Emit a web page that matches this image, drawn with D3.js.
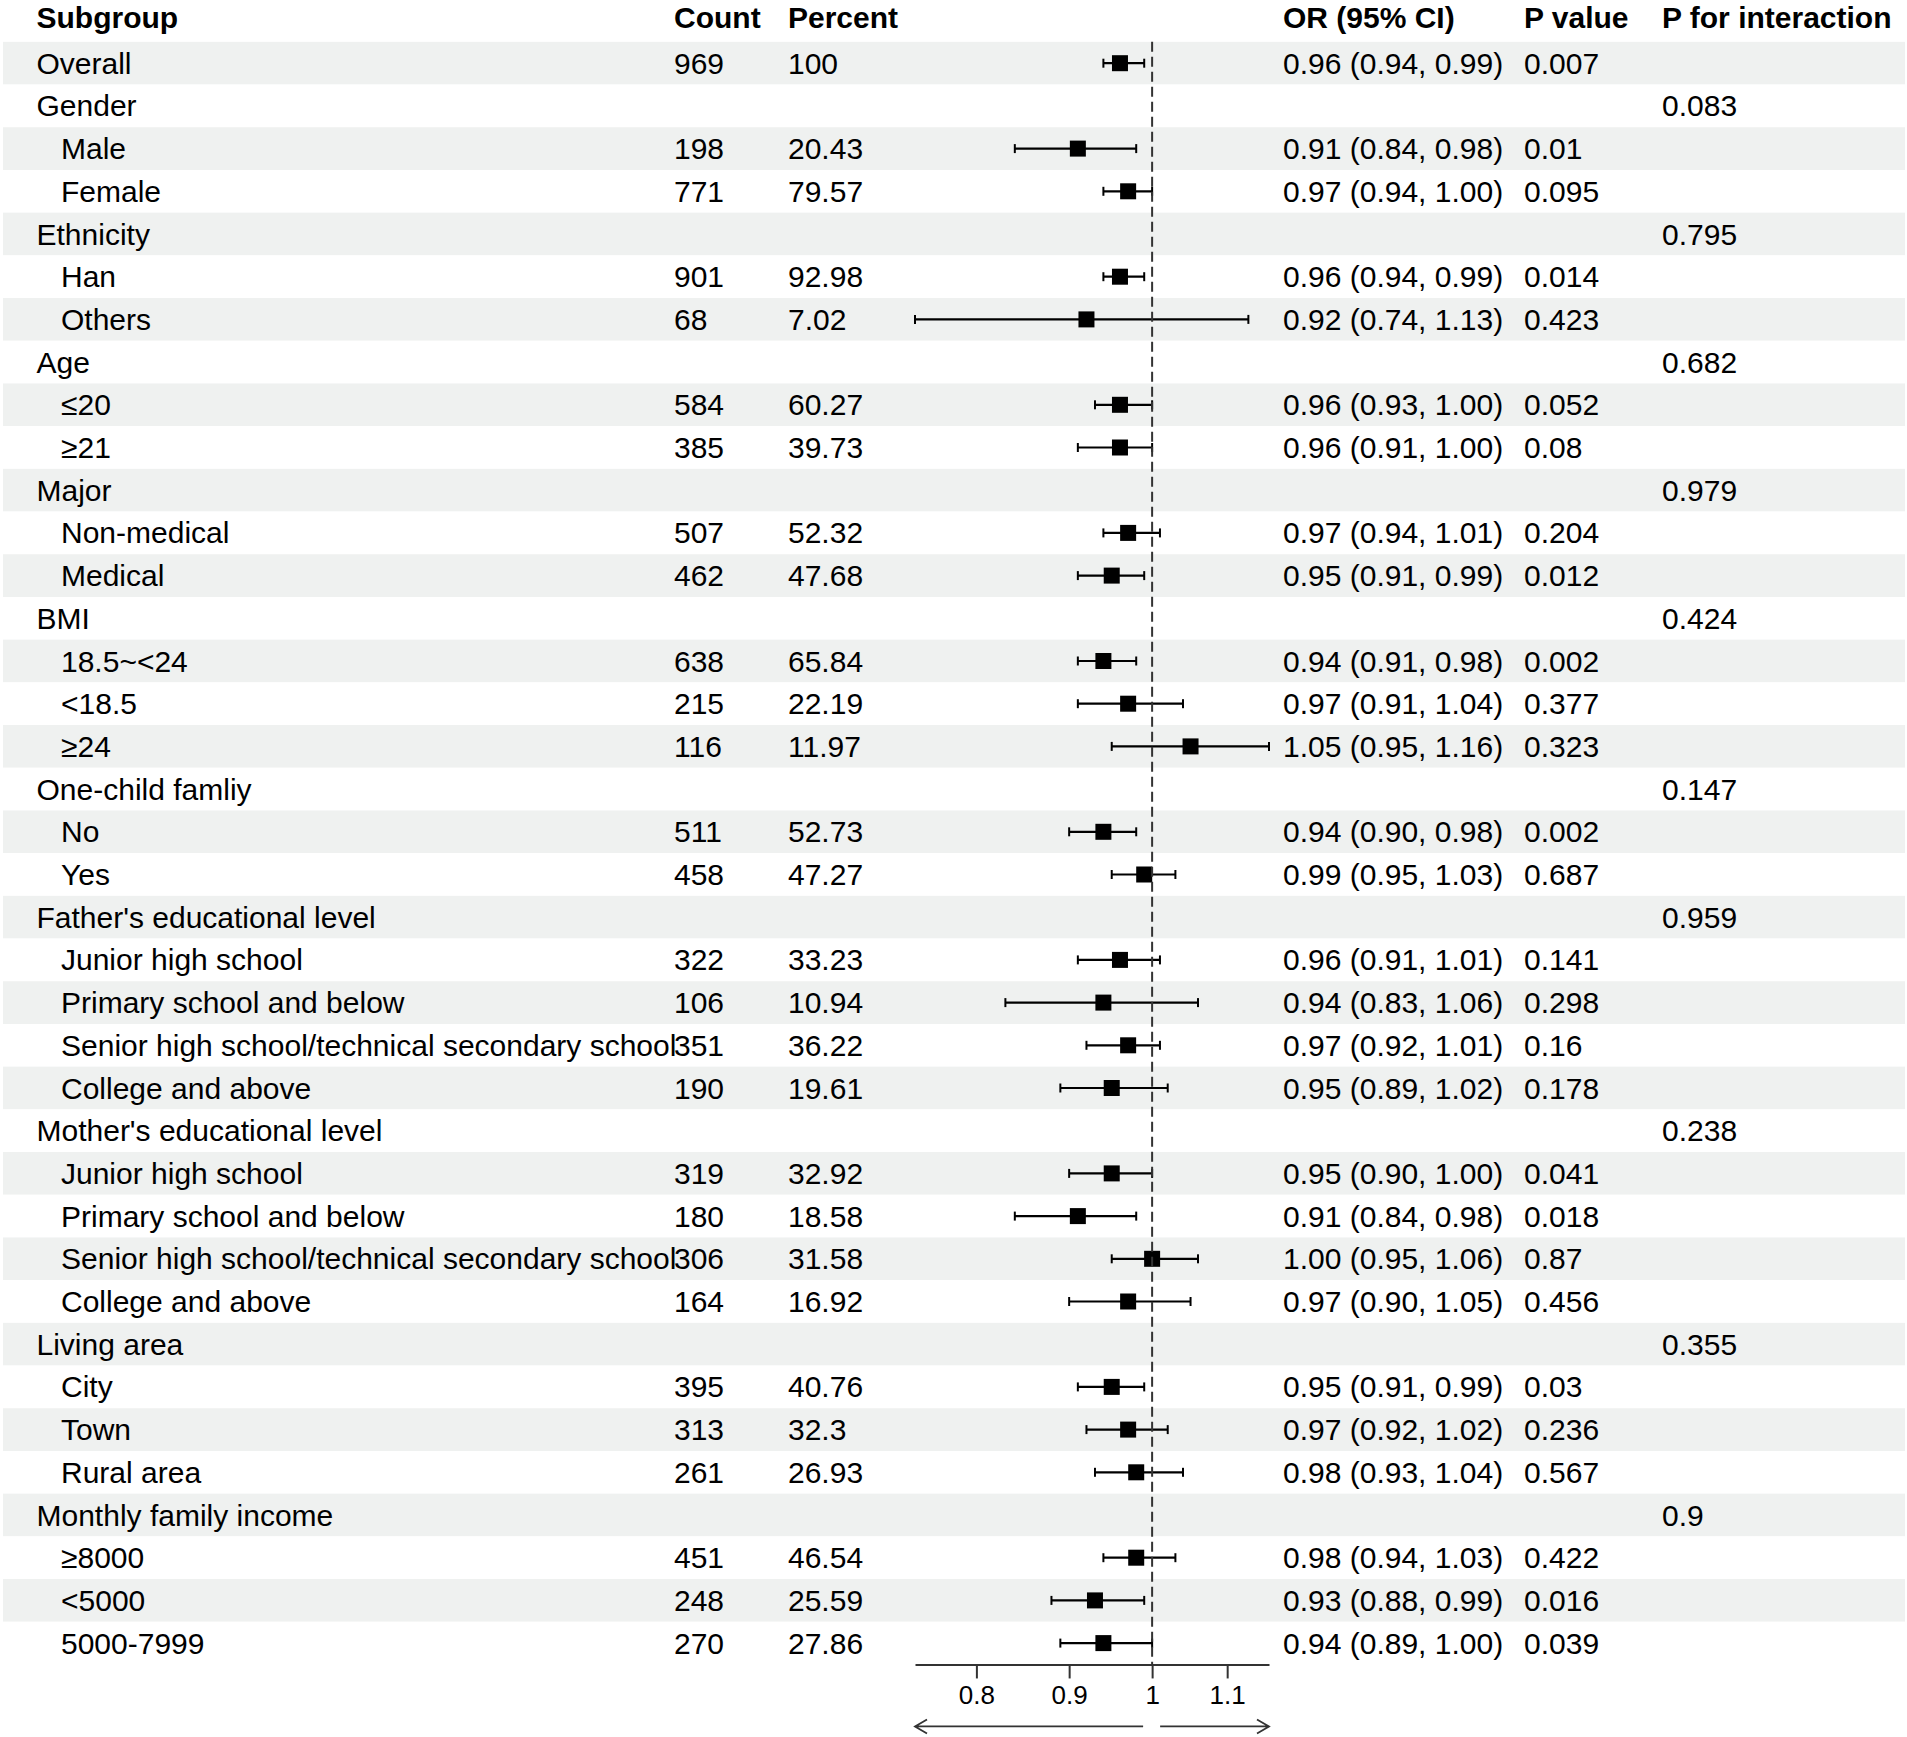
<!DOCTYPE html>
<html>
<head>
<meta charset="utf-8">
<script src="https://cdn.jsdelivr.net/npm/d3@7"></script>
<style>
  html, body { margin: 0; padding: 0; background: #fff; }
  text { font-family: "Liberation Sans", Arial, Helvetica, sans-serif; fill: #000; }
</style>
</head>
<body>
<div id="container_forest"></div>
<script>
// rows of the table, leading spaces = indented sub item
const subgroups = ['Overall', 'Gender', '  Male', '  Female', 'Ethnicity', '  Han', '  Others',
  'Age', '  ≤20', '  ≥21', 'Major', '  Non-medical', '  Medical', 'BMI', '  18.5~<24', '  <18.5', '  ≥24',
  'One-child famliy', '  No', '  Yes', "Father's educational level", '  Junior high school',
  '  Primary school and below', '  Senior high school/technical secondary school', '  College and above',
  "Mother's educational level", '  Junior high school', '  Primary school and below',
  '  Senior high school/technical secondary school', '  College and above', 'Living area', '  City',
  '  Town', '  Rural area', 'Monthly family income', '  ≥8000', '  <5000', '  5000-7999'];
const counts = [969, null, 198, 771, null, 901, 68, null, 584, 385, null, 507, 462, null, 638, 215, 116,
  null, 511, 458, null, 322, 106, 351, 190, null, 319, 180, 306, 164, null, 395, 313, 261, null, 451, 248, 270];
const percents = [100, null, 20.43, 79.57, null, 92.98, 7.02, null, 60.27, 39.73, null, 52.32, 47.68, null,
  65.84, 22.19, 11.97, null, 52.73, 47.27, null, 33.23, 10.94, 36.22, 19.61, null, 32.92, 18.58, 31.58, 16.92,
  null, 40.76, 32.3, 26.93, null, 46.54, 25.59, 27.86];
const orEst = [0.96, null, 0.91, 0.97, null, 0.96, 0.92, null, 0.96, 0.96, null, 0.97, 0.95, null, 0.94, 0.97,
  1.05, null, 0.94, 0.99, null, 0.96, 0.94, 0.97, 0.95, null, 0.95, 0.91, 1.00, 0.97, null, 0.95, 0.97, 0.98,
  null, 0.98, 0.93, 0.94];
const orLow = [0.94, null, 0.84, 0.94, null, 0.94, 0.74, null, 0.93, 0.91, null, 0.94, 0.91, null, 0.91, 0.91,
  0.95, null, 0.90, 0.95, null, 0.91, 0.83, 0.92, 0.89, null, 0.90, 0.84, 0.95, 0.90, null, 0.91, 0.92, 0.93,
  null, 0.94, 0.88, 0.89];
const orHigh = [0.99, null, 0.98, 1.00, null, 0.99, 1.13, null, 1.00, 1.00, null, 1.01, 0.99, null, 0.98, 1.04,
  1.16, null, 0.98, 1.03, null, 1.01, 1.06, 1.01, 1.02, null, 1.00, 0.98, 1.06, 1.05, null, 0.99, 1.02, 1.04,
  null, 1.03, 0.99, 1.00];
const pValues = ['0.007', '', '0.01', '0.095', '', '0.014', '0.423', '', '0.052', '0.08', '', '0.204', '0.012',
  '', '0.002', '0.377', '0.323', '', '0.002', '0.687', '', '0.141', '0.298', '0.16', '0.178', '', '0.041',
  '0.018', '0.87', '0.456', '', '0.03', '0.236', '0.567', '', '0.422', '0.016', '0.039'];
const pInteraction = ['', '0.083', '', '', '0.795', '', '', '0.682', '', '', '0.979', '', '', '0.424', '', '', '',
  '0.147', '', '', '0.959', '', '', '', '', '0.238', '', '', '', '', '0.355', '', '', '', '0.9', '', '', ''];
const headers = ['Subgroup', 'Count', 'Percent', '', 'OR (95% CI)', 'P value', 'P for interaction'];
const xTicks = [0.8, 0.9, 1, 1.1];

const width = 1907, height = 1737;
const fontSize = 30;
const rowH = 42.7, firstRow = 63.2;
const colX = { sub: 36.5, indent: 61, count: 674, pct: 788, or: 1283, p: 1524, pint: 1662 };
const plotRange = [915, 1269];

const svg = d3.select('#container_forest')
  .append('svg')
  .attr('id', 'svg_forest')
  .attr('width', width)
  .attr('height', height);

const rows = subgroups.map((s, i) => ({
  label: s.trim(),
  indented: s.startsWith(' '),
  count: counts[i],
  pct: percents[i],
  est: orEst[i],
  lo: orLow[i],
  hi: orHigh[i],
  p: pValues[i],
  pint: pInteraction[i]
}));

const y = d3.scaleBand()
  .domain(d3.range(rows.length))
  .range([firstRow - rowH / 2, firstRow - rowH / 2 + rowH * rows.length]);

const x = d3.scaleLog()
  .domain([d3.min(orLow.filter(d => d != null)), d3.max(orHigh.filter(d => d != null))])
  .range(plotRange);

const fmt = d3.format('.2f');

//striped background
svg.append('g')
  .selectAll('rect')
  .data(rows)
  .enter()
  .append('rect')
  .attr('x', 3)
  .attr('y', (d, i) => y(i))
  .attr('width', width - 5)
  .attr('height', y.bandwidth())
  .style('fill', (d, i) => i % 2 === 0 ? '#eff1f0' : '#ffffff');

//header
const headerX = [colX.sub, colX.count, colX.pct, 0, colX.or, colX.p, colX.pint];
svg.append('g')
  .selectAll('text')
  .data(headers)
  .enter()
  .append('text')
  .attr('x', (d, i) => headerX[i])
  .attr('y', 17)
  .attr('dy', '0.35em')
  .style('font-size', fontSize + 'px')
  .style('font-weight', 'bold')
  .text(d => d);

//table cells
const cells = svg.append('g')
  .selectAll('g')
  .data(rows)
  .enter()
  .append('g')
  .attr('transform', (d, i) => `translate(0, ${y(i) + y.bandwidth() / 2})`)
  .style('font-size', fontSize + 'px');

const addCell = (xPos, accessor) => {
  cells.append('text')
    .attr('x', xPos)
    .attr('dy', '0.35em')
    .text(accessor);
};

addCell(d => d.indented ? colX.indent : colX.sub, d => d.label);
addCell(colX.count, d => d.count == null ? '' : d.count);
addCell(colX.pct, d => d.pct == null ? '' : d.pct);
addCell(colX.or, d => d.est == null ? '' : `${fmt(d.est)} (${fmt(d.lo)}, ${fmt(d.hi)})`);
addCell(colX.p, d => d.p);
addCell(colX.pint, d => d.pint);

//reference line at 1
const axisY = y.range()[1];
svg.append('line')
  .attr('x1', x(1))
  .attr('x2', x(1))
  .attr('y1', y.range()[0])
  .attr('y2', axisY)
  .style('stroke', '#333')
  .style('stroke-width', 2)
  .style('stroke-dasharray', '10,5');

//CI whiskers + point estimates
const ci = cells.filter(d => d.est != null);
ci.append('line')
  .attr('x1', d => x(d.lo))
  .attr('x2', d => x(d.hi))
  .style('stroke', '#000')
  .style('stroke-width', 2.2);
['lo', 'hi'].forEach(k => {
  ci.append('line')
    .attr('x1', d => x(d[k]))
    .attr('x2', d => x(d[k]))
    .attr('y1', -4.5)
    .attr('y2', 4.5)
    .style('stroke', '#000')
    .style('stroke-width', 2);
});
ci.append('rect')
  .attr('x', d => x(d.est) - 8)
  .attr('y', -8)
  .attr('width', 16)
  .attr('height', 16)
  .style('fill', '#000');

//x axis
const axis = svg.append('g')
  .attr('transform', `translate(0, ${axisY})`)
  .call(d3.axisBottom(x)
    .tickValues(xTicks)
    .tickFormat(d => String(d))
    .tickSize(14)
    .tickSizeOuter(0)
    .tickPadding(7));
axis.select('.domain').style('stroke', '#333').style('stroke-width', 2);
axis.selectAll('.tick line').style('stroke', '#333').style('stroke-width', 2);
axis.selectAll('.tick text')
  .style('font-size', '26px')
  .style('font-family', '"Liberation Sans", Arial, sans-serif')
  .style('fill', '#000');

//direction arrows
const arrowY = axisY + 62;
const arrow = (x1, x2) => {
  const dir = Math.sign(x2 - x1);
  svg.append('path')
    .attr('d', `M${x1},${arrowY}L${x2},${arrowY}M${x2 - dir * 12},${arrowY - 7}L${x2},${arrowY}L${x2 - dir * 12},${arrowY + 7}`)
    .style('fill', 'none')
    .style('stroke', '#333')
    .style('stroke-width', 1.8);
};
arrow(x(1) - 9, plotRange[0]);
arrow(x(1) + 8, plotRange[1]);
</script>
</body>
</html>
